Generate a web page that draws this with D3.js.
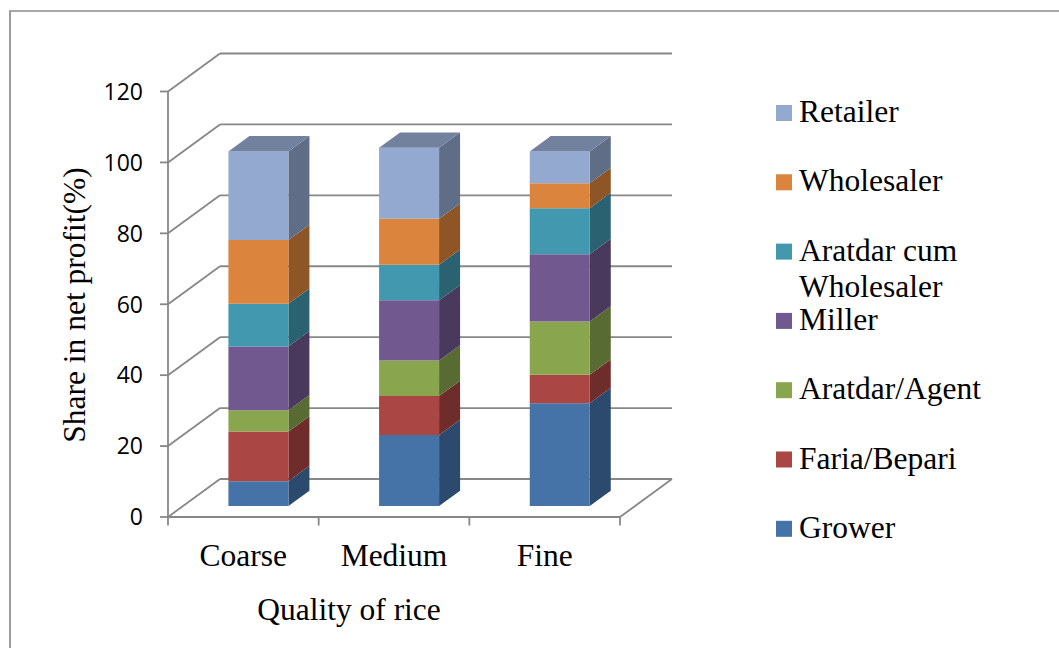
<!DOCTYPE html>
<html>
<head>
<meta charset="utf-8">
<script src="https://cdn.jsdelivr.net/npm/d3@7"></script>
<style>
  html, body { margin: 0; padding: 0; background: #ffffff; }
  svg { display: block; }
</style>
</head>
<body>
<svg id="chart" width="1059" height="648"></svg>
<script>
// Share in net profit (%) by actor, for each rice quality
const categories = ["Coarse", "Medium", "Fine"];
const seriesNames = ["Grower", "Faria/Bepari", "Aratdar/Agent", "Miller", "Aratdar cum Wholesaler", "Wholesaler", "Retailer"];
const grower = [7, 20, 29];
const fariaBepari = [14, 11, 8];
const aratdarAgent = [6, 10, 15];
const miller = [18, 17, 19];
const aratdarCumWholesaler = [12, 10, 13];
const wholesaler = [18, 13, 7];
const retailer = [25, 20, 9];
const yTicks = [0, 20, 40, 60, 80, 100, 120];

// face colours: front, side, top
const frontColors = ["#4572A7", "#AA4643", "#89A54E", "#71588F", "#4198AF", "#DB843D", "#93A9CF"];
const sideColors  = ["#2C4A6E", "#6E2D2B", "#586B32", "#49395C", "#2A6271", "#8E5527", "#5F6D86"];
const topColors   = ["#36598A", "#8A3836", "#6F873E", "#5B4775", "#327C8F", "#B36A2F", "#72829E"];

const table = categories.map((c, i) => ({
  category: c,
  "Grower": grower[i],
  "Faria/Bepari": fariaBepari[i],
  "Aratdar/Agent": aratdarAgent[i],
  "Miller": miller[i],
  "Aratdar cum Wholesaler": aratdarCumWholesaler[i],
  "Wholesaler": wholesaler[i],
  "Retailer": retailer[i]
}));

const stacked = d3.stack().keys(seriesNames)(table);

const svg = d3.select("#chart");
const gridColor = "#878787";
const serif = "'Liberation Serif', 'Times New Roman', serif";
const sans = "'Open Sans', 'Liberation Sans', sans-serif";

// 3D projection: depth fraction d moves points up and to the right
const depthX = 52, depthY = 38;
const proj = (x, y, d) => [x + depthX * d, y - depthY * d];

const x = d3.scaleBand().domain(categories).range([168, 620]).paddingInner(0).paddingOuter(0);
const y = d3.scaleLinear().domain([0, 120]).range([517, 91.5]);

// outer frame
svg.append("path")
  .attr("d", "M10,660 L10,11 L1070,11")
  .attr("fill", "none").attr("stroke", "#8c8c8c").attr("stroke-width", 1.7);

const grid = svg.append("g").attr("stroke", gridColor).attr("stroke-width", 1.8).attr("fill", "none");

// back wall and side wall gridlines
yTicks.forEach(v => {
  const [bx0, by] = proj(168, y(v), 1);
  const [bx1] = proj(620, y(v), 1);
  grid.append("line").attr("x1", bx0).attr("y1", by).attr("x2", bx1).attr("y2", by);
  grid.append("line").attr("x1", 168).attr("y1", y(v)).attr("x2", bx0).attr("y2", by);
});

// floor outline
const fr = proj(620, y(0), 1);
grid.append("line").attr("x1", 168).attr("y1", y(0)).attr("x2", 620).attr("y2", y(0));
grid.append("line").attr("x1", 620).attr("y1", y(0)).attr("x2", fr[0]).attr("y2", fr[1]);

// value axis
grid.append("line").attr("x1", 168).attr("y1", y(0)).attr("x2", 168).attr("y2", y(120));
yTicks.forEach(v => {
  grid.append("line").attr("x1", 160).attr("y1", y(v)).attr("x2", 168).attr("y2", y(v));
});
svg.append("g").selectAll("text").data(yTicks).join("text")
  .attr("x", 143).attr("y", d => y(d)).attr("dy", "0.36em")
  .attr("text-anchor", "end")
  .style("font-family", sans).style("font-size", "23px").attr("fill", "#000")
  .text(d => d);

// category axis ticks
const xBounds = categories.map(c => x(c)).concat([x(categories[categories.length - 1]) + x.bandwidth()]);
xBounds.forEach(b => {
  grid.append("line").attr("x1", b).attr("y1", y(0)).attr("x2", b).attr("y2", y(0) + 8.5);
});

// bars
const barWidth = 60;
const d0 = 0.29, d1 = 0.694;
const bars = svg.append("g");
const pts = arr => arr.map(p => p.join(",")).join(" ");

categories.forEach((c, ci) => {
  const cx = x(c) + x.bandwidth() / 2;
  const xl = cx - barWidth / 2, xr = cx + barWidth / 2;
  const g = bars.append("g");
  stacked.forEach((layer, si) => {
    const [lo, hi] = layer[ci];
    const yLo = y(lo), yHi = y(hi);
    // side face
    g.append("polygon")
      .attr("points", pts([proj(xr, yLo, d0), proj(xr, yLo, d1), proj(xr, yHi, d1), proj(xr, yHi, d0)]))
      .attr("fill", sideColors[si]);
    // front face
    g.append("polygon")
      .attr("points", pts([proj(xl, yLo, d0), proj(xr, yLo, d0), proj(xr, yHi, d0), proj(xl, yHi, d0)]))
      .attr("fill", frontColors[si]);
  });
  // top face on the highest segment
  const topIdx = stacked.length - 1;
  const yTop = y(stacked[topIdx][ci][1]);
  g.append("polygon")
    .attr("points", pts([proj(xl, yTop, d0), proj(xr, yTop, d0), proj(xr, yTop, d1), proj(xl, yTop, d1)]))
    .attr("fill", topColors[topIdx]);
});

// category labels
svg.append("g").selectAll("text").data(categories).join("text")
  .attr("x", d => x(d) + x.bandwidth() / 2)
  .attr("y", 566)
  .attr("text-anchor", "middle")
  .style("font-family", serif).style("font-size", "31.5px").attr("fill", "#000")
  .text(d => d);

// axis titles
svg.append("text")
  .attr("x", 349).attr("y", 620)
  .attr("text-anchor", "middle")
  .style("font-family", serif).style("font-size", "31.5px").attr("fill", "#000")
  .text("Quality of rice");

svg.append("text")
  .attr("transform", "translate(85,305) rotate(-90)")
  .attr("text-anchor", "middle")
  .style("font-family", serif).style("font-size", "31.5px").attr("fill", "#000")
  .text("Share in net profit(%)");

// legend (top series first)
const legendOrder = seriesNames.map((n, i) => ({ name: n, i })).reverse();
const legend = svg.append("g");
legendOrder.forEach((item, k) => {
  const base = 122 + k * 69.3;
  legend.append("rect")
    .attr("x", 776).attr("y", base - 17).attr("width", 16).attr("height", 16)
    .attr("fill", frontColors[item.i]);
  const t = legend.append("text")
    .attr("x", 799).attr("y", base)
    .style("font-family", serif).style("font-size", "31.5px").attr("fill", "#000");
  if (item.name === "Aratdar cum Wholesaler") {
    t.append("tspan").attr("x", 799).attr("y", base).text("Aratdar cum");
    t.append("tspan").attr("x", 799).attr("y", base + 36).text("Wholesaler");
  } else {
    t.text(item.name);
  }
});
</script>
</body>
</html>
